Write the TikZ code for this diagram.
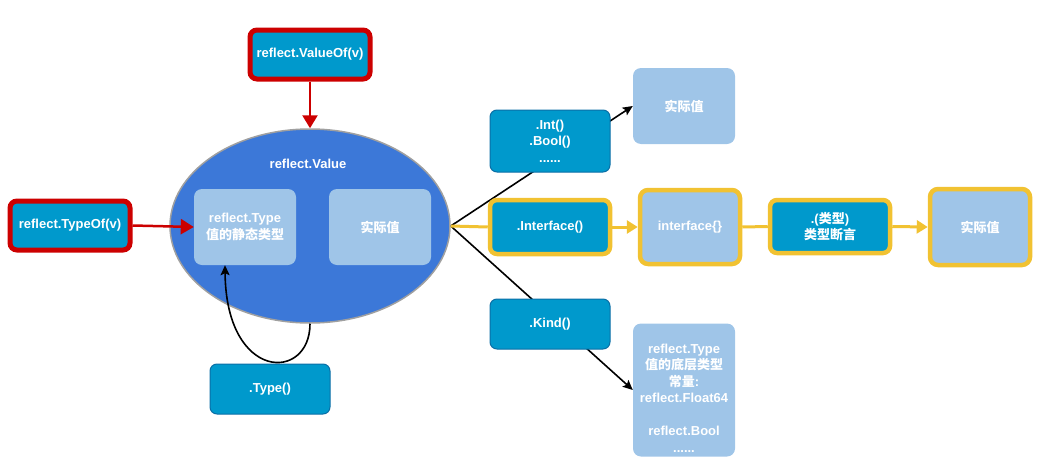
\documentclass[tikz,border=0pt]{standalone}
\usepackage{fontspec}
\setmainfont{Liberation Sans}
\newfontfamily\cjk{Noto Sans CJK SC}
\usetikzlibrary{arrows.meta,backgrounds,shapes.geometric}
\definecolor{dblue}{HTML}{0099CC}
\definecolor{dborder}{HTML}{0B6FA6}
\definecolor{lblue}{HTML}{9FC5E8}
\definecolor{ellfill}{HTML}{3C78D8}
\definecolor{ellborder}{HTML}{A0A0A0}
\definecolor{redc}{HTML}{CC0000}
\definecolor{yell}{HTML}{F1C232}
\tikzset{
  txt/.style={text=white, align=center, font=\fontsize{13}{16.5}\selectfont\bfseries, inner sep=0pt},
  dbox/.style={txt, fill=dblue, draw=dborder, line width=1pt, rounded corners=7pt, minimum width=120pt, minimum height=50pt},
  lbox/.style={txt, fill=lblue, rounded corners=8pt, minimum width=102pt, minimum height=76pt},
  redbox/.style={dbox, draw=redc, line width=5pt, minimum height=49pt},
  ybox/.style={draw=yell, line width=4.5pt},
  blk/.style={draw=black, line width=1.6pt, -{Stealth[length=10pt,width=9pt,inset=2pt]}},
  redarr/.style={draw=redc, line width=2.5pt, -{Triangle[length=13pt,width=15pt]}},
  yline/.style={draw=yell, line width=3pt},
  yarr/.style={yline, -{Triangle[length=11pt,width=13pt]}},
}
\begin{document}
\begin{tikzpicture}[x=1pt,y=-1pt]
\useasboundingbox (0,0) rectangle (1050,474);
% ellipse
\node[ellipse, fill=ellfill, draw=ellborder, line width=1.5pt, minimum width=280pt, minimum height=194pt, inner sep=0pt] (E) at (310,226) {};
\node[txt] (Elab) at (308,164) {reflect.Value};
\node[lbox] (B1) at (245,227) {reflect.Type\\{\cjk 值的静态类型}};
\node[lbox] (B2) at (380,227) {{\cjk 实际值}};
% red inputs
\node[redbox] (VO) at (310,54.5) {reflect.ValueOf(v)};
\node[redbox] (TO) at (70,225.5) {reflect.TypeOf(v)};
% Type()
\node[dbox] (TY) at (270,389) {.Type()};
% right side
\node[dbox, minimum height=62pt] (IB) at (550,141) {.Int()\\.Bool()\\......};
\node[lbox] (R1) at (684,106) {{\cjk 实际值}};
\node[dbox, ybox, minimum height=54pt] (IF) at (550,227) {.Interface()};
\node[lbox, ybox, minimum width=100pt, minimum height=74pt] (IC) at (690,227) {interface\{\}};
\node[dbox, ybox, minimum height=53pt] (TA) at (830,226.5) {.({\cjk 类型})\\{\cjk 类型断言}};
\node[lbox, ybox, minimum width=100pt, minimum height=76pt] (R2) at (980,227) {{\cjk 实际值}};
\node[dbox] (KI) at (550,324) {.Kind()};
\node[lbox, minimum height=133pt] (LB) at (684,390) {};
\node[txt] (LBt) at (684,398) {reflect.Type\\{\cjk 值的底层类型}\\{\cjk 常量}:\\reflect.Float64\\[16.5pt]reflect.Bool\\......};
% connectors
\begin{scope}[on background layer]
\draw[blk] (E.east) -- (R1.west);
\draw[blk] (E.east) -- (LB.west);
\end{scope}
\draw[redarr] (VO.south) -- (E.north);
\draw[redarr] (TO.east) -- (B1.west);
\draw[yline] (E.east) -- (IF.west);
\draw[yarr] (IF.east) -- (IC.west);
\draw[yline] (IC.east) -- (TA.west);
\draw[yarr] (TA.east) -- (R2.west);
\draw[blk] (E.south) .. controls (310,382) and (226,382) .. ([xshift=-20pt]B1.south);
\end{tikzpicture}
\end{document}
